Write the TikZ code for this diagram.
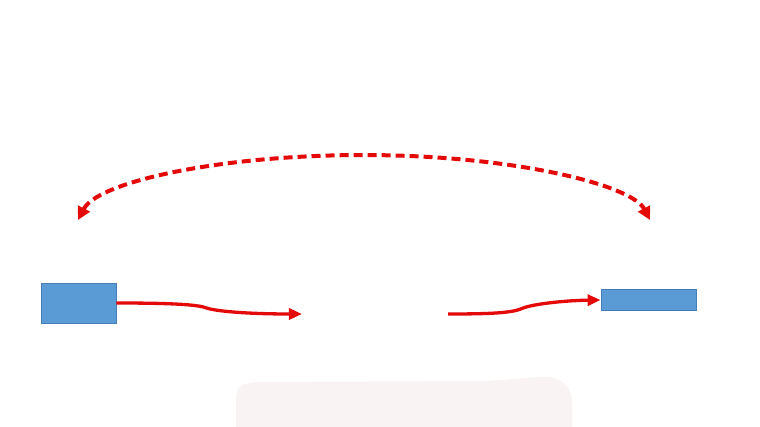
\documentclass[tikz,border=0pt]{standalone}
\usepackage{tikz}
\usetikzlibrary{arrows.meta}
\definecolor{boxblue}{RGB}{91,155,213}
\definecolor{boxedge}{RGB}{70,125,180}
\definecolor{flowred}{RGB}{228,10,10}
\definecolor{blobpink}{RGB}{250,243,243}
\tikzset{
	blockbox/.style={draw=boxedge, line width=0.2pt, fill=boxblue, inner sep=0pt},
	flowline/.style={draw=flowred, line width=0.033cm, -{Triangle[length=0.13cm, width=0.11cm]}},
	swapline/.style={draw=flowred, line width=0.04cm, dash pattern=on 0.09cm off 0.05cm,
		{Triangle[length=0.13cm, width=0.13cm]}-{Triangle[length=0.13cm, width=0.13cm]}}
}

\begin{document}
\begin{tikzpicture}[x=0.01cm, y=0.01cm]
				\useasboundingbox (0, 0) rectangle (760, 427);
				
				\fill[blobpink] (236, 0) -- (236, 28) .. controls (236, 42) and (245, 45) .. (262, 45)
					-- (480, 46) .. controls (510, 47) and (530, 50) .. (545, 50)
					.. controls (562, 50) and (572, 40) .. (572, 25) -- (572, 0) -- cycle;
				
				\node[blockbox, minimum width=0.75cm, minimum height=0.40cm] (lbox) at (78.5, 124) {};
				\node[blockbox, minimum width=0.95cm, minimum height=0.21cm] (rbox) at (648.5, 127) {};
				
				\coordinate (lend) at (302, 113);
				\coordinate (rstart) at (448, 113);
				
				\draw[flowline] (lbox.east) .. controls (160, 124) and (195, 123) .. (205, 119.5)
					.. controls (215, 115.5) and (250, 113) .. (lend);
				\draw[flowline] (rstart) .. controls (490, 113) and (512, 114) .. (522, 118.5)
					.. controls (532, 123) and (565, 126.5) .. (rbox.west);
				
				\draw[swapline] (78, 207) arc (172.3:7.7:288.6 and 75);
			\end{tikzpicture}
\end{document}
